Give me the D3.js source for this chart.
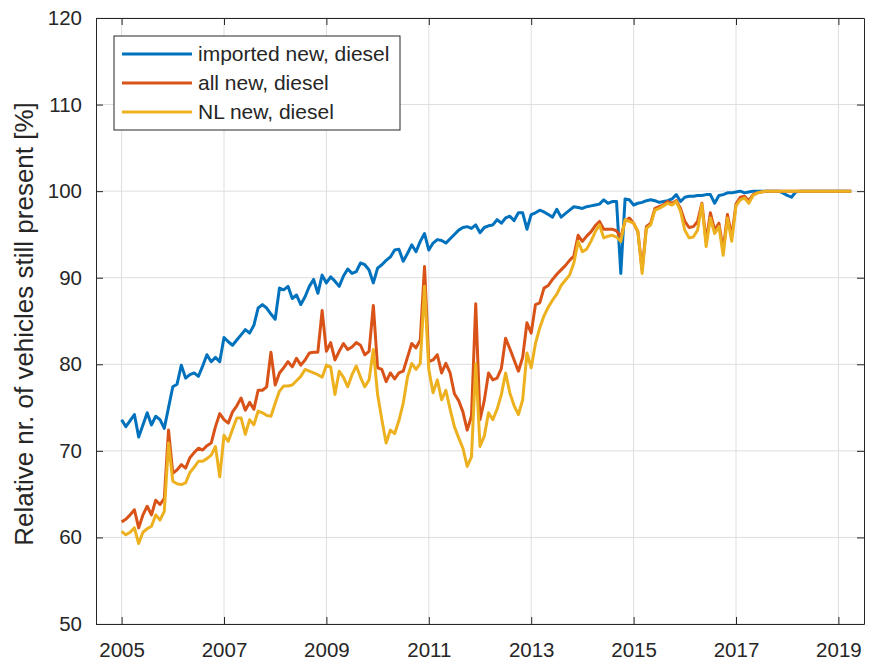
<!DOCTYPE html>
<html>
<head>
<meta charset="utf-8">
<script src="https://cdn.jsdelivr.net/npm/d3@7"></script>
<style>
  body { margin: 0; background: white; }
</style>
</head>
<body>
<script>
'use strict';

// monthly values, first point = Jan 2005
const startYear = 2005;

const importedNew = [
  73.6, 72.8, 73.5, 74.2, 71.6, 73.0, 74.4, 73.0, 74.0, 73.6, 72.6, 75.0,
  77.4, 77.7, 79.9, 78.4, 78.8, 79.0, 78.6, 79.8, 81.1, 80.3, 80.8, 80.3,
  83.1, 82.6, 82.2, 82.8, 83.4, 84.0, 83.6, 84.5, 86.5, 86.9, 86.5, 85.8,
  85.2, 88.8, 88.6, 89.0, 87.6, 88.0, 86.9, 87.8, 89.0, 89.8, 88.2, 90.3,
  89.4, 90.1, 89.6, 89.0, 90.2, 91.0, 90.5, 90.7, 91.7, 91.5, 90.9, 89.4,
  91.1, 91.5, 92.0, 92.4, 93.2, 93.3, 91.9, 92.8, 93.8, 93.0, 94.2, 95.1,
  93.2, 94.0, 94.4, 94.3, 94.0, 94.5, 95.0, 95.5, 95.8, 95.9, 95.7, 96.1,
  95.2, 95.8, 96.0, 96.1, 96.7, 96.3, 96.9, 97.1, 96.6, 97.5, 97.5, 95.6,
  97.3, 97.5, 97.8, 97.6, 97.3, 97.0, 97.9, 97.0, 97.4, 97.8, 98.2, 98.1,
  98.0, 98.2, 98.3, 98.4, 98.5, 99.0, 98.6, 98.8, 98.8, 90.5, 99.1, 99.0,
  98.4, 98.6, 98.7, 98.9, 99.0, 98.9, 98.7, 98.8, 98.9, 99.1, 99.6, 98.8,
  99.3, 99.4, 99.4, 99.5, 99.5, 99.6, 99.6, 98.6, 99.5, 99.6, 99.8, 99.8,
  99.9, 100, 99.8, 99.9, 100, 100, 100, 100, 100, 100, 100, 99.8,
  99.5, 99.3, 99.9, 100, 100, 100, 100, 100, 100, 100, 100, 100,
  100, 100, 100, 100
];

const allNew = [
  61.8, 62.1, 62.6, 63.2, 61.1, 62.6, 63.6, 62.6, 64.3, 63.8, 64.5, 72.4,
  67.4, 67.8, 68.4, 68.0, 69.2, 69.8, 70.3, 70.1, 70.6, 70.9, 72.8, 74.3,
  73.6, 73.2, 74.5, 75.2, 76.1, 74.7, 75.6, 74.8, 77.0, 77.0, 77.4, 81.4,
  77.6, 79.0, 79.6, 80.3, 79.7, 80.7, 79.9, 80.5, 81.3, 81.4, 81.4, 86.2,
  81.5, 82.5, 80.5, 81.5, 82.4, 81.7, 82.0, 82.5, 82.2, 81.1, 81.5, 86.8,
  79.6, 79.4, 78.0, 79.0, 78.3, 79.0, 79.2, 80.8, 82.4, 81.9, 82.8, 91.3,
  80.3, 80.5, 81.1, 79.0, 80.1, 79.0, 76.6, 75.8, 74.5, 72.4, 74.0, 87.0,
  73.6, 75.8, 79.0, 78.2, 78.4, 79.5, 83.0, 81.8, 80.5, 79.2, 80.8, 84.8,
  83.6, 86.9, 87.1, 88.8, 89.1, 89.8, 90.4, 90.9, 91.4, 92.0, 92.5, 94.9,
  94.2, 94.8, 95.3, 96.0, 96.5, 95.6, 95.6, 95.6, 95.4, 94.7, 96.5, 96.9,
  96.3, 95.3, 90.9, 95.9, 96.3, 98.0, 98.2, 98.4, 98.8, 98.6, 98.9, 98.0,
  96.5, 95.8, 95.9, 96.5, 98.6, 94.2, 97.5, 95.5, 96.3, 93.2, 97.3, 94.8,
  98.5, 99.3, 99.4, 98.9, 99.6, 99.8, 99.9, 100, 100, 100, 100, 100,
  100, 100, 100, 100, 100, 100, 100, 100, 100, 100, 100, 100,
  100, 100, 100, 100
];

const nlNew = [
  60.7, 60.3, 60.6, 61.1, 59.3, 60.6, 61.0, 61.3, 62.6, 62.0, 63.0, 70.9,
  66.5, 66.2, 66.1, 66.3, 67.5, 68.1, 68.8, 68.8, 69.1, 69.5, 70.5, 67.0,
  71.8, 71.1, 72.5, 73.8, 73.8, 71.9, 73.6, 73.0, 74.6, 74.4, 74.1, 74.0,
  75.5, 76.9, 77.5, 77.5, 77.6, 78.1, 78.6, 79.4, 79.2, 79.0, 78.8, 78.5,
  79.9, 79.7, 76.5, 79.2, 78.5, 77.4, 78.8, 79.8, 78.5, 77.4, 78.2, 81.7,
  76.5, 73.6, 70.9, 72.4, 72.0, 73.5, 75.5, 78.5, 80.1, 79.4, 80.1, 89.0,
  79.4, 76.7, 78.2, 75.9, 77.0, 74.8, 72.8, 71.5, 70.3, 68.2, 69.3, 80.1,
  70.5, 71.7, 74.4, 73.6, 74.8, 76.5, 79.0, 76.7, 75.2, 74.2, 75.9, 81.3,
  79.6, 82.4, 84.2, 85.6, 86.6, 87.4, 88.1, 89.1, 89.7, 90.3, 91.7, 94.2,
  93.0, 93.3, 94.2, 95.3, 96.1, 94.6, 94.8, 94.9, 94.7, 94.2, 96.7, 96.5,
  96.3, 95.4, 90.5, 95.7, 96.1, 97.8, 98.0, 98.3, 98.6, 98.4, 98.8, 97.7,
  95.5, 94.6, 94.7, 95.5, 98.5, 93.6, 96.9, 95.1, 95.9, 92.6, 96.9, 94.2,
  98.3, 99.0, 99.2, 98.6, 99.5, 99.8, 99.9, 100, 100, 100, 100, 100,
  100, 100, 100, 100, 100, 100, 100, 100, 100, 100, 100, 100,
  100, 100, 100, 100
];

const seriesNames = ["imported new, diesel", "all new, diesel", "NL new, diesel"];
const seriesColors = ["#0072BD", "#D95319", "#EDB120"];
const xTicks = [2005, 2007, 2009, 2011, 2013, 2015, 2017, 2019];
const yTicks = [50, 60, 70, 80, 90, 100, 110, 120];

(function() {

  let svgContainer = "";
  const axisColor = "#262626";
  const gridColor = "#dedede";
  const tickLen = 7;

  window.onload = function() {
    svgContainer = d3.select('body')
      .append('svg')
      .attr('width', 870)
      .attr('height', 663)
      .style('font-family', '"Liberation Sans", Arial, Helvetica, sans-serif');

    const map = drawAxes();
    plotData(map);
    makeLegend();
    makeLabels();
  }

  // axes box, grid, ticks and tick labels
  function drawAxes() {
    let xScale = d3.scaleLinear()
      .domain([2004.5, 2019.5])
      .range([96, 864]);

    let yScale = d3.scaleLinear()
      .domain([50, 120])
      .range([624, 18]);

    let left = xScale.range()[0], right = xScale.range()[1];
    let top = yScale.range()[1], bottom = yScale.range()[0];

    // grid lines
    let grid = svgContainer.append('g').attr('class', 'grid');
    grid.selectAll('.vgrid')
      .data(xTicks)
      .enter()
      .append('line')
        .attr('x1', d => xScale(d))
        .attr('x2', d => xScale(d))
        .attr('y1', top)
        .attr('y2', bottom)
        .attr('stroke', gridColor)
        .attr('stroke-width', 1);
    grid.selectAll('.hgrid')
      .data(yTicks)
      .enter()
      .append('line')
        .attr('x1', left)
        .attr('x2', right)
        .attr('y1', d => yScale(d))
        .attr('y2', d => yScale(d))
        .attr('stroke', gridColor)
        .attr('stroke-width', 1);

    // bottom / left axes with inward ticks
    let xAxis = d3.axisBottom(xScale)
      .tickValues(xTicks)
      .tickFormat(d3.format('d'))
      .tickSizeInner(-tickLen)
      .tickSizeOuter(0)
      .tickPadding(tickLen + 11);
    let gx = svgContainer.append('g')
      .attr('transform', 'translate(0,' + bottom + ')')
      .call(xAxis);

    let yAxis = d3.axisLeft(yScale)
      .tickValues(yTicks)
      .tickSizeInner(-tickLen)
      .tickSizeOuter(0)
      .tickPadding(tickLen + 7);
    let gy = svgContainer.append('g')
      .attr('transform', 'translate(' + left + ',0)')
      .call(yAxis);

    // top / right axes, ticks only
    let gt = svgContainer.append('g')
      .attr('transform', 'translate(0,' + top + ')')
      .call(d3.axisTop(xScale).tickValues(xTicks).tickSizeInner(-tickLen).tickSizeOuter(0).tickFormat(''));
    let gr = svgContainer.append('g')
      .attr('transform', 'translate(' + right + ',0)')
      .call(d3.axisRight(yScale).tickValues(yTicks).tickSizeInner(-tickLen).tickSizeOuter(0).tickFormat(''));

    [gx, gy, gt, gr].forEach(g => {
      g.select('.domain').attr('stroke', axisColor).attr('stroke-width', 1);
      g.selectAll('.tick line').attr('stroke', axisColor).attr('stroke-width', 1);
      g.selectAll('.tick text')
        .attr('fill', axisColor)
        .style('font-size', '20.5px')
        .style('font-family', '"Liberation Sans", Arial, Helvetica, sans-serif');
    });

    return { xScale: xScale, yScale: yScale };
  }

  // draw the three series as lines
  function plotData(map) {
    let xScale = map.xScale;
    let yScale = map.yScale;

    const line = d3.line()
      .x((d, i) => xScale(startYear + i / 12))
      .y(d => yScale(d));

    [importedNew, allNew, nlNew].forEach((series, k) => {
      svgContainer.append('path')
        .datum(series)
        .attr('d', line)
        .attr('fill', 'none')
        .attr('stroke', seriesColors[k])
        .attr('stroke-width', 3)
        .attr('stroke-linejoin', 'round');
    });
  }

  // legend box at top left
  function makeLegend() {
    let legend = svgContainer.append('g')
      .attr('transform', 'translate(114, 36)');

    legend.append('rect')
      .attr('width', 286)
      .attr('height', 94)
      .attr('fill', 'white')
      .attr('stroke', axisColor)
      .attr('stroke-width', 1);

    let rows = legend.selectAll('.row')
      .data(seriesNames)
      .enter()
      .append('g')
        .attr('transform', (d, i) => 'translate(0,' + (18 + i * 29) + ')');

    rows.append('line')
      .attr('x1', 8)
      .attr('x2', 78)
      .attr('y1', 0)
      .attr('y2', 0)
      .attr('stroke', (d, i) => seriesColors[i])
      .attr('stroke-width', 3);

    rows.append('text')
      .attr('x', 84)
      .attr('y', 7)
      .style('font-size', '21px')
      .attr('fill', axisColor)
      .text(d => d);
  }

  // y axis title
  function makeLabels() {
    svgContainer.append('text')
      .attr('transform', 'translate(33, 324)rotate(-90)')
      .attr('text-anchor', 'middle')
      .style('font-size', '26px')
      .attr('fill', axisColor)
      .text('Relative nr. of vehicles still present [%]');
  }

})();
</script>
</body>
</html>
